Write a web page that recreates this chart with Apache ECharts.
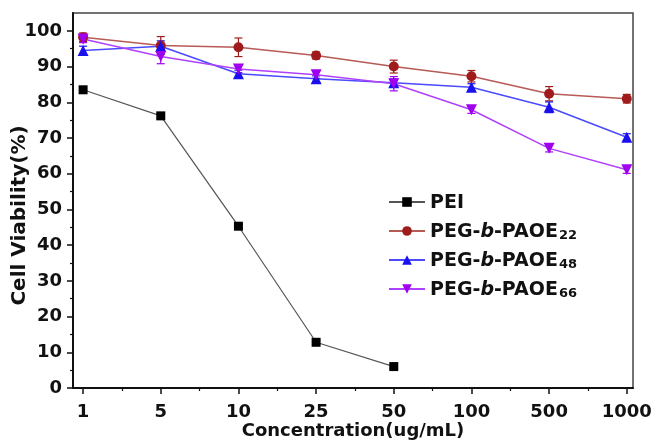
<!DOCTYPE html>
<html>
<head>
<meta charset="utf-8">
<script src="https://cdn.jsdelivr.net/npm/echarts@6/dist/echarts.min.js"></script>
<style>html,body{margin:0;padding:0;background:#fff;}#c{width:652px;height:440px;}</style>
</head>
<body>
<div id="c"></div>
<script>
var categories = ['1', '5', '10', '25', '50', '100', '500', '1000'];
var yTicks = [0, 10, 20, 30, 40, 50, 60, 70, 80, 90, 100];
var yMinorTicks = [5, 15, 25, 35, 45, 55, 65, 75, 85, 95];

var pei      = [83.5, 76.2, 45.3, 12.8, 6.0, null, null, null];
var peiErr   = [0.5, 0.5, 0.5, 0.5, 0.5, null, null, null];
var peg22    = [98.2, 95.9, 95.4, 93.1, 90.0, 87.3, 82.4, 81.0];
var peg22Err = [1.2, 2.5, 2.6, 1.0, 1.8, 1.6, 2.0, 1.2];
var peg48    = [94.5, 95.7, 88.0, 86.6, 85.5, 84.2, 78.6, 70.2];
var peg48Err = [1.2, 1.5, 1.0, 0.8, 1.0, 1.0, 1.5, 1.0];
var peg66    = [97.7, 92.8, 89.3, 87.7, 85.2, 77.9, 67.1, 61.1];
var peg66Err = [1.0, 2.0, 1.0, 1.0, 2.0, 1.0, 1.0, 1.0];

var FONT = '"DejaVu Sans", Arial, sans-serif';

function toPoints(vals) {
  var out = [];
  vals.forEach(function (v, i) { if (v !== null) out.push([i, v]); });
  return out;
}
function toErr(vals, errs) {
  var out = [];
  vals.forEach(function (v, i) { if (v !== null) out.push([i, v - errs[i], v + errs[i]]); });
  return out;
}
function errSeries(vals, errs, color) {
  return {
    type: 'custom',
    xAxisIndex: 0, yAxisIndex: 0,
    z: 1,
    silent: true,
    data: toErr(vals, errs),
    renderItem: function (params, api) {
      var x = api.value(0);
      var lo = api.coord([x, api.value(1)]);
      var hi = api.coord([x, api.value(2)]);
      var w = 4;
      var st = { stroke: color, lineWidth: 1.2 };
      return {
        type: 'group',
        children: [
          { type: 'line', shape: { x1: lo[0], y1: lo[1], x2: hi[0], y2: hi[1] }, style: st },
          { type: 'line', shape: { x1: lo[0] - w, y1: lo[1], x2: lo[0] + w, y2: lo[1] }, style: st },
          { type: 'line', shape: { x1: hi[0] - w, y1: hi[1], x2: hi[0] + w, y2: hi[1] }, style: st }
        ]
      };
    }
  };
}

var chart = echarts.init(document.getElementById('c'));
var axisLineStyle = { color: '#111', width: 2 };

chart.setOption({
  animation: false,
  backgroundColor: '#fff',
  grid: { left: 73, right: 19, top: 13, bottom: 52, show: true, borderColor: '#444', borderWidth: 1.5, containLabel: false, outerBoundsMode: 'none' },
  legend: {
    orient: 'vertical',
    left: 383, top: 186,
    itemWidth: 36, itemHeight: 12, itemGap: 7,
    data: ['PEI', 'PEG-b-PAOE22', 'PEG-b-PAOE48', 'PEG-b-PAOE66'],
    formatter: function (name) {
      var m = name.match(/^PEG-b-PAOE(\d+)$/);
      if (!m) return '{n|' + name + '}';
      return '{n|PEG-}{i|b}{n|-PAOE}{s|' + m[1] + '}';
    },
    textStyle: {
      fontFamily: FONT, fontWeight: 'bold', fontSize: 19, color: '#111', lineHeight: 22,
      rich: {
        n: { fontFamily: FONT, fontWeight: 'bold', fontSize: 19, color: '#111', lineHeight: 22, verticalAlign: 'bottom' },
        i: { fontFamily: FONT, fontWeight: 'bold', fontStyle: 'italic', fontSize: 19, color: '#111', lineHeight: 22, verticalAlign: 'bottom' },
        s: { fontFamily: FONT, fontWeight: 'bold', fontSize: 13, color: '#111', lineHeight: 18, verticalAlign: 'bottom', padding: [0, 0, 0, 1] }
      }
    }
  },
  xAxis: [{
    type: 'value', min: -0.13, max: 7.08,
    name: 'Concentration(ug/mL)', nameLocation: 'middle', nameGap: 34, nameMoveOverlap: false,
    nameTextStyle: { fontFamily: FONT, fontWeight: 'bold', fontSize: 18, color: '#111' },
    axisLine: { show: true, onZero: false, lineStyle: axisLineStyle },
    axisTick: { show: true, inside: false, length: 6, customValues: [0, 1, 2, 3, 4, 5, 6, 7], lineStyle: { color: '#111', width: 1.5 } },
    axisLabel: {
      customValues: [0, 1, 2, 3, 4, 5, 6, 7], margin: 15,
      formatter: function (v) { return categories[Math.round(v)]; },
      fontFamily: FONT, fontWeight: 'bold', fontSize: 18, color: '#111'
    },
    splitLine: { show: false }
  }, {
    type: 'value', min: -0.13, max: 7.08, position: 'bottom',
    axisLine: { show: false, onZero: false },
    axisTick: { show: true, inside: false, length: 3, customValues: [0.5, 1.5, 2.5, 3.5, 4.5, 5.5, 6.5], lineStyle: { color: '#111', width: 1.2 } },
    axisLabel: { show: false },
    splitLine: { show: false }
  }],
  yAxis: [{
    type: 'value', min: 0, max: 105,
    name: 'Cell Viability(%)', nameLocation: 'middle', nameGap: 43, nameMoveOverlap: false,
    nameTextStyle: { fontFamily: FONT, fontWeight: 'bold', fontSize: 20, color: '#111', padding: [0, 30, 0, 0] },
    axisLine: { show: true, onZero: false, lineStyle: axisLineStyle },
    axisTick: { show: true, inside: false, length: 6, customValues: yTicks, lineStyle: { color: '#111', width: 1.5 } },
    axisLabel: { customValues: yTicks, margin: 11, fontFamily: FONT, fontWeight: 'bold', fontSize: 18, color: '#111' },
    splitLine: { show: false }
  }, {
    type: 'value', min: 0, max: 105, position: 'left',
    axisLine: { show: false, onZero: false },
    axisTick: { show: true, inside: false, length: 3, customValues: yMinorTicks, lineStyle: { color: '#111', width: 1.2 } },
    axisLabel: { show: false },
    splitLine: { show: false }
  }],
  series: [
    errSeries(pei, peiErr, '#000'),
    errSeries(peg22, peg22Err, '#a01c1c'),
    errSeries(peg48, peg48Err, '#1a10ee'),
    errSeries(peg66, peg66Err, '#a000f0'),
    {
      name: 'PEI', type: 'line', data: toPoints(pei), z: 3,
      symbol: 'rect', symbolSize: 9,
      lineStyle: { color: '#555', width: 1.2 },
      itemStyle: { color: '#000' }
    },
    {
      name: 'PEG-b-PAOE22', type: 'line', data: toPoints(peg22), z: 3,
      symbol: 'circle', symbolSize: 10,
      lineStyle: { color: '#b85a55', width: 1.5 },
      itemStyle: { color: '#a01c1c' }
    },
    {
      name: 'PEG-b-PAOE48', type: 'line', data: toPoints(peg48), z: 3,
      symbol: 'triangle', symbolSize: 11,
      lineStyle: { color: '#4a4aff', width: 1.5 },
      itemStyle: { color: '#1a10ee' }
    },
    {
      name: 'PEG-b-PAOE66', type: 'line', data: toPoints(peg66), z: 3,
      symbol: 'triangle', symbolRotate: 180, symbolSize: 11,
      lineStyle: { color: '#b040ff', width: 1.5 },
      itemStyle: { color: '#a000f0' }
    }
  ]
});
</script>
</body>
</html>
